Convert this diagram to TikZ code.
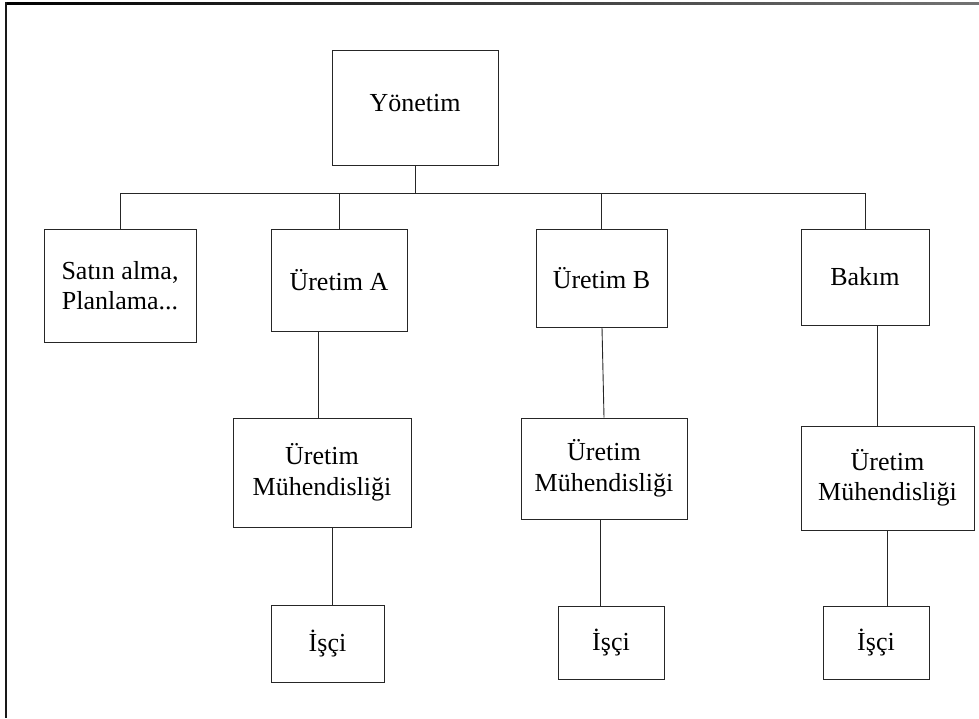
\documentclass[tikz,border=0pt]{standalone}
\usepackage{fontspec}
\setmainfont{Liberation Serif}
\begin{document}
\begin{tikzpicture}[x=1pt,y=-1pt,
  unit/.style={draw=black!85, line width=1pt, inner sep=0pt, align=center,
    font=\fontsize{26}{30.5}\selectfont},
  link/.style={draw=black!85, line width=0.9pt}]
  \useasboundingbox (0,0) rectangle (979,718);
  % page frame
  \shade[left color=black, right color=black!55] (6,2.4) rectangle (979,4);
  \fill[black!90] (5.4,2.4) rectangle (6.9,718);

  % boxes
  \node[unit, minimum width=166, minimum height=115] (yon) at (415,107.5) {\raisebox{-4pt}[0pt][0pt]{Yönetim}};
  \node[unit, minimum width=152, minimum height=113] (sat) at (120,285.5) {Satın alma,\\Planlama...};
  \node[unit, minimum width=136, minimum height=102] (ua) at (339,280) {Üretim A};
  \node[unit, minimum width=131, minimum height=98] (ub) at (601.5,278) {Üretim B};
  \node[unit, minimum width=128, minimum height=96] (bak) at (865,277) {Bakım};
  \node[unit, minimum width=178, minimum height=109] (ma) at (322,472.5) {Üretim\\Mühendisliği};
  \node[unit, minimum width=166, minimum height=101] (mb) at (604,468.5) {Üretim\\Mühendisliği};
  \node[unit, minimum width=173, minimum height=104] (mc) at (887.5,478) {Üretim\\Mühendisliği};
  \node[unit, minimum width=113, minimum height=77] (ia) at (327.5,643.5) {İşçi};
  \node[unit, minimum width=106, minimum height=73] (ib) at (611,642.5) {İşçi};
  \node[unit, minimum width=106, minimum height=73] (ic) at (876,642.5) {İşçi};

  % branch line under the top box
  \coordinate (bus) at (415,193);
  \draw[link] (yon.south) -- (yon.south |- bus);
  \draw[link] (sat.north) -- (sat.north |- bus) -- (bak.north |- bus) -- (bak.north);
  \draw[link] (ua.north) -- (ua.north |- bus);
  \draw[link] (ub.north) -- (ub.north |- bus);

  % lower chains
  \draw[link] ([xshift=-21]ua.south) -- ([xshift=-4]ma.north);
  \draw[link] ([xshift=10]ma.south) -- ([xshift=4.5]ia.north);
  \draw[link] ([xshift=0.5]ub.south) -- ([xshift=0]mb.north);
  \draw[link] ([xshift=-4]mb.south) -- ([xshift=-11]ib.north);
  \draw[link] ([xshift=12]bak.south) -- ([xshift=-10.5]mc.north);
  \draw[link] ([xshift=-0.5]mc.south) -- ([xshift=11]ic.north);
\end{tikzpicture}
\end{document}
